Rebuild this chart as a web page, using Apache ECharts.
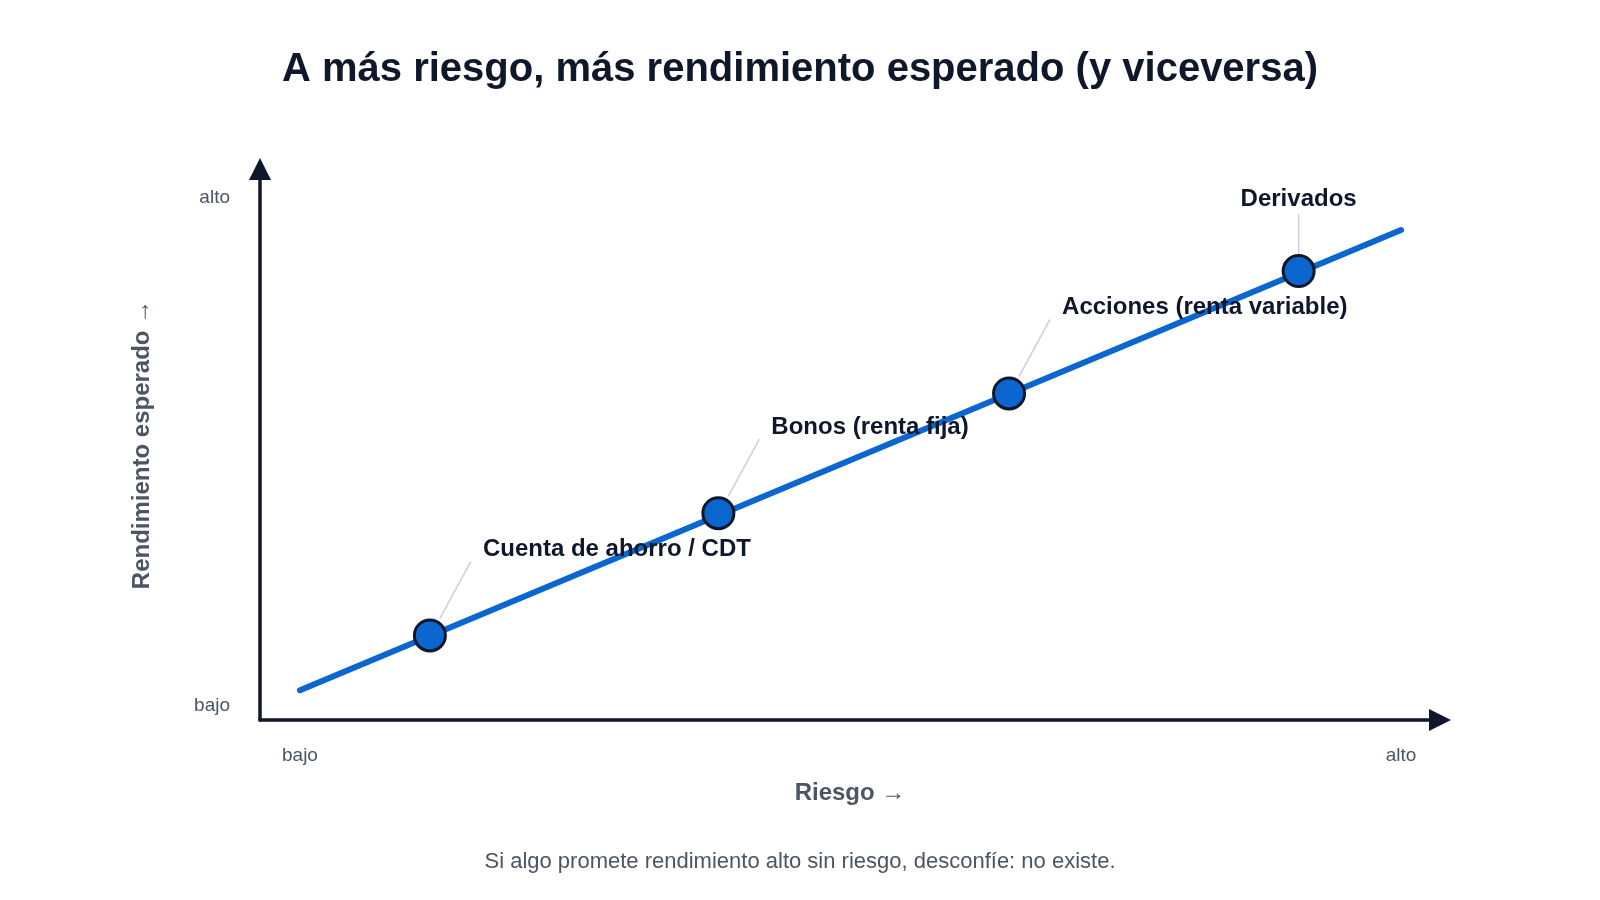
<!DOCTYPE html>
<html>
<head>
<meta charset="utf-8">
<title>Riesgo y rendimiento</title>
<script src="https://cdn.jsdelivr.net/npm/echarts@6/dist/echarts.min.js"></script>
<style>
  html, body { margin: 0; padding: 0; background: #fff; }
  #main { width: 1600px; height: 900px; }
</style>
</head>
<body>
<div id="main"></div>
<script>
// datos del gráfico
const assetNames = ["Cuenta de ahorro / CDT", "Bonos (renta fija)", "Acciones (renta variable)", "Derivados"];
const riskValues = [1.18, 3.8, 6.44, 9.07];
const returnValues = [1.38, 3.79, 6.15, 8.56];
const trendRisk = [0, 10];
const trendReturn = [0.3, 9.37];
const tickValues = [0, 10];
const tickLabels = ["bajo", "alto"];

const ink = "#0f172a";
const blue = "#0b66cf";
const grey = "#4b5563";
const font = "Liberation Sans, Arial, sans-serif";

// etiquetas: las tres primeras a la derecha, la última centrada arriba
const labelSide = ["right", "right", "right", "top"];

const chart = echarts.init(document.getElementById("main"));

const points = assetNames.map((name, i) => ({
  name: name,
  value: [riskValues[i], returnValues[i]],
  label: labelSide[i] === "top"
    ? { align: "center", offset: [0, -72] }
    : { align: "left", offset: [53, -86] }
}));

const option = {
  backgroundColor: "#fff",
  animation: false,
  textStyle: { fontFamily: font },
  title: {
    text: "A más riesgo, más rendimiento esperado (y viceversa)",
    left: "center",
    top: 45,
    textStyle: { fontSize: 40, fontWeight: "bold", color: ink, fontFamily: font }
  },
  graphic: [{
    type: "text",
    left: "center",
    top: 851,
    style: {
      text: "Si algo promete rendimiento alto sin riesgo, desconfíe: no existe.",
      fontSize: 22,
      fill: grey,
      fontFamily: font
    }
  }],
  grid: { left: 260, right: 160, top: 169, bottom: 180 },
  xAxis: {
    type: "value",
    min: -0.363,
    max: 10.354,
    name: "Riesgo →",
    nameLocation: "middle",
    nameGap: 61,
    nameTextStyle: { fontSize: 24, fontWeight: "bold", color: grey },
    splitLine: { show: false },
    axisTick: { show: false },
    axisLine: {
      show: true,
      onZero: false,
      symbol: ["none", "triangle"],
      symbolSize: [22, 22],
      lineStyle: { color: ink, width: 3.5 }
    },
    axisLabel: {
      customValues: tickValues,
      formatter: v => tickLabels[tickValues.indexOf(v)],
      margin: 26,
      fontSize: 19,
      color: grey
    }
  },
  yAxis: {
    type: "value",
    min: -0.286,
    max: 10.572,
    name: "Rendimiento esperado →",
    nameLocation: "middle",
    nameGap: 106,
    nameTextStyle: { fontSize: 24, fontWeight: "bold", color: grey },
    splitLine: { show: false },
    axisTick: { show: false },
    axisLine: {
      show: true,
      onZero: false,
      symbol: ["none", "triangle"],
      symbolSize: [22, 22],
      lineStyle: { color: ink, width: 3.5 }
    },
    axisLabel: {
      customValues: tickValues,
      formatter: v => tickLabels[tickValues.indexOf(v)],
      margin: 30,
      fontSize: 19,
      color: grey
    }
  },
  series: [
    {
      type: "line",
      data: trendRisk.map((x, i) => [x, trendReturn[i]]),
      symbol: "none",
      lineStyle: { color: blue, width: 6, cap: "round" },
      z: 2
    },
    {
      // líneas guía de las etiquetas
      type: "custom",
      data: points.map((p, i) => p.value.concat(i)),
      renderItem: (params, api) => {
        const c = api.coord([api.value(0), api.value(1)]);
        const top = labelSide[api.value(2)] === "top";
        const a = top ? [0, -17] : [10, -17];
        const b = top ? [0, -57] : [41, -74];
        return {
          type: "line",
          shape: { x1: c[0] + a[0], y1: c[1] + a[1], x2: c[0] + b[0], y2: c[1] + b[1] },
          style: { stroke: "#cbd0d6", lineWidth: 1.5 }
        };
      },
      z: 3
    },
    {
      type: "scatter",
      data: points,
      symbolSize: 31,
      itemStyle: { color: blue, borderColor: ink, borderWidth: 3, opacity: 1 },
      label: {
        show: true,
        position: "inside",
        verticalAlign: "middle",
        formatter: "{b}",
        fontSize: 24,
        fontWeight: "bold",
        color: ink,
        fontFamily: font
      },
      z: 4
    }
  ]
};

chart.setOption(option);
</script>
</body>
</html>
